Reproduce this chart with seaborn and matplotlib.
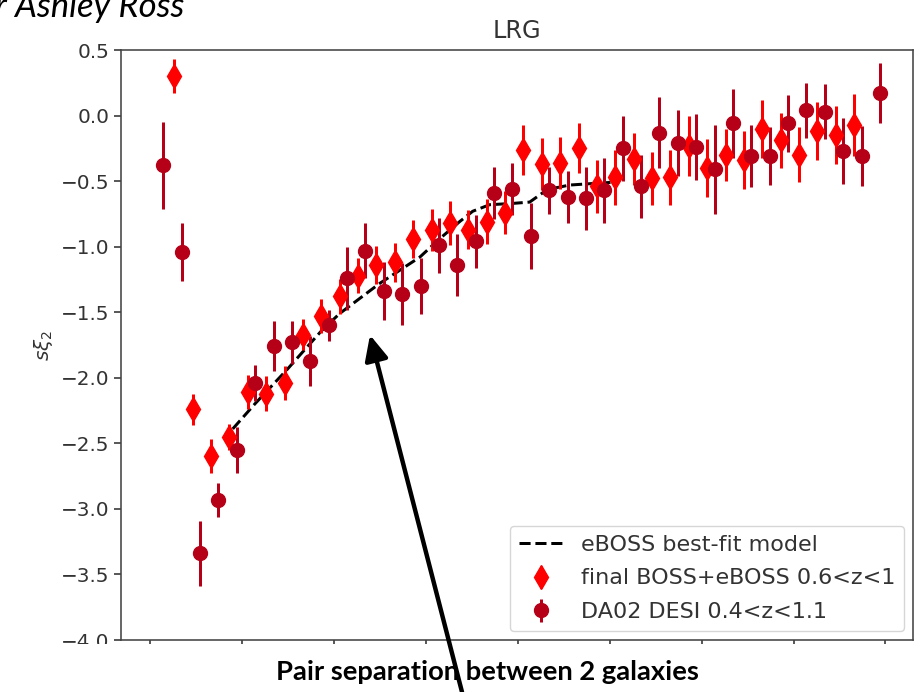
import numpy as np
import pandas as pd
import matplotlib
matplotlib.use("Agg")
import matplotlib.pyplot as plt
import seaborn as sns
from matplotlib.patches import Rectangle, FancyArrowPatch

# ---------------- data ----------------
model_s = [22.4, 28.4, 37.1, 46.6, 51.5, 62.4, 73.3, 78.7, 84.1, 87.7, 92.3,
           98.6, 103.2, 106.7, 110.5, 114.1, 119.5, 125.2]
model_sxi2 = [-2.39, -2.20, -1.94, -1.64, -1.51, -1.28, -1.08, -0.94, -0.81,
              -0.73, -0.68, -0.67, -0.66, -0.59, -0.55, -0.53, -0.52, -0.51]

boss_s = [6.5, 11.5, 16.5, 21.5, 26.5, 31.5, 36.5, 41.5, 46.5, 51.5, 56.5,
          61.5, 66.5, 71.5, 76.5, 81.5, 86.5, 91.5, 96.5, 101.5, 106.5, 111.5,
          116.5, 121.5, 126.5, 131.5, 136.5, 141.5, 146.5, 151.5, 156.5, 161.5,
          166.5, 171.5, 176.5, 181.5, 186.5, 191.5]
boss_sxi2 = [0.30, -2.24, -2.60, -2.45, -2.11, -2.12, -2.04, -1.67, -1.53,
             -1.38, -1.22, -1.14, -1.12, -0.94, -0.87, -0.82, -0.87, -0.81,
             -0.74, -0.26, -0.37, -0.36, -0.25, -0.54, -0.47, -0.33, -0.48,
             -0.47, -0.23, -0.40, -0.30, -0.34, -0.10, -0.19, -0.30, -0.12,
             -0.15, -0.07]
boss_err = [0.13, 0.12, 0.13, 0.10, 0.13, 0.13, 0.13, 0.12, 0.13, 0.13, 0.13,
            0.145, 0.15, 0.145, 0.16, 0.17, 0.15, 0.17, 0.165, 0.19, 0.20,
            0.20, 0.19, 0.20, 0.21, 0.20, 0.20, 0.21, 0.23, 0.22, 0.20, 0.22,
            0.22, 0.21, 0.21, 0.22, 0.22, 0.235]

desi_s = [3.5, 8.5, 13.5, 18.5, 23.5, 28.5, 33.5, 38.5, 43.5, 48.5, 53.5,
          58.5, 63.5, 68.5, 73.5, 78.5, 83.5, 88.5, 93.5, 98.5, 103.5, 108.5,
          113.5, 118.5, 123.5, 128.5, 133.5, 138.5, 143.5, 148.5, 153.5, 158.5,
          163.5, 168.5, 173.5, 178.5, 183.5, 188.5, 193.5, 198.5]
desi_sxi2 = [-0.38, -1.04, -3.34, -2.93, -2.55, -2.04, -1.76, -1.73, -1.87,
             -1.60, -1.24, -1.03, -1.34, -1.36, -1.30, -0.99, -1.14, -0.96,
             -0.59, -0.56, -0.92, -0.57, -0.62, -0.63, -0.57, -0.25, -0.54,
             -0.13, -0.21, -0.24, -0.41, -0.06, -0.31, -0.31, -0.06, 0.04,
             0.03, -0.27, -0.31, 0.17]
desi_err = [0.33, 0.22, 0.25, 0.13, 0.175, 0.14, 0.19, 0.165, 0.19, 0.12,
            0.24, 0.21, 0.22, 0.235, 0.215, 0.21, 0.24, 0.20, 0.20, 0.20,
            0.25, 0.18, 0.20, 0.24, 0.25, 0.25, 0.24, 0.27, 0.25, 0.25, 0.34,
            0.26, 0.235, 0.22, 0.22, 0.21, 0.21, 0.25, 0.23, 0.23]

y_ticks = [0.5, 0.0, -0.5, -1.0, -1.5, -2.0, -2.5, -3.0, -3.5, -4.0]
x_ticks = [0, 25, 50, 75, 100, 125, 150, 175, 200]

# ---------------- styling ----------------
sc = 1.44
sns.set_style("ticks")
plt.rcParams["font.family"] = ["DejaVu Sans"]
plt.rcParams["font.size"] = 10 * sc

W, H = 922, 692
fig = plt.figure(figsize=(W / 100, H / 100), dpi=100)
ax = fig.add_axes([121 / W, 52 / H, 792 / W, 590 / H])

model_df = pd.DataFrame({"s": model_s, "sxi2": model_sxi2})
sns.lineplot(data=model_df, x="s", y="sxi2", ax=ax, color="black",
             linestyle="--", linewidth=1.5 * sc, label="eBOSS best-fit model")

ax.errorbar(boss_s, boss_sxi2, yerr=boss_err, fmt="d", color="red",
            ms=12, elinewidth=1.5 * sc, label="final BOSS+eBOSS 0.6<z<1")
ax.errorbar(desi_s, desi_sxi2, yerr=desi_err, fmt="o", color="#b50018",
            ms=10, elinewidth=1.5 * sc, label="DA02 DESI 0.4<z<1.1")

ax.set_xlim(-8, 207.5)
ax.set_ylim(-4.0, 0.5)
ax.set_yticks(y_ticks)
ax.set_xticks(x_ticks)
ax.tick_params(axis="both", length=3.5 * sc, width=0.8 * sc,
               labelsize=10 * sc, colors="#333333")
ax.tick_params(axis="x", labelbottom=False)
for sp in ax.spines.values():
    sp.set_linewidth(0.8 * sc)
    sp.set_color("#444444")
ax.set_xlabel("")
ax.set_ylabel(r"$s\xi_2$", fontsize=10 * sc, color="#333333")
ax.set_title("LRG", fontsize=12 * sc, pad=6 * sc, color="#333333")

ax.legend(loc="lower right", fontsize=16, framealpha=0.8,
          labelcolor="#333333", borderaxespad=0.4, labelspacing=0.62)

# slide overlay: white strip, caption, arrow, credit text
fig.add_artist(Rectangle((0, 0), 1, 48 / H, transform=fig.transFigure,
                         facecolor="white", edgecolor="none", zorder=5))
fig.text(487 / W, 1 - 680 / H, "Pair separation between 2 galaxies",
         ha="center", va="baseline", fontsize=19.7, fontweight="bold",
         family=["Lato", "DejaVu Sans"], color="black", zorder=6)
arrow = FancyArrowPatch(posA=(462 / W, 0.0), posB=(370 / W, 1 - 335 / H),
                        transform=fig.transFigure,
                        arrowstyle="-|>,head_length=0.75,head_width=0.35",
                        mutation_scale=20, lw=3.2, color="black",
                        shrinkA=0, shrinkB=0, zorder=7)
fig.add_artist(arrow)
fig.text(-5 / W, 1 - 17 / H, "r Ashley Ross", ha="left", va="baseline",
         fontsize=25, style="italic", family=["Lato", "DejaVu Sans"],
         color="black")

fig.savefig("out.png", dpi=100)
